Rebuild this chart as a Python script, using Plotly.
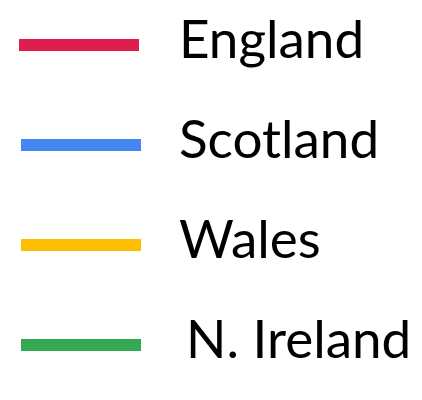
import plotly.graph_objects as go

# legend entries
nations = ["England", "Scotland", "Wales", "N. Ireland"]
colours = ["#DC1F4F", "#4487F2", "#FDBF00", "#34A853"]
line_start = [19, 21, 21, 21]
line_end = [139, 141, 141, 141]
label_x = [179, 179, 179, 186]

fig = go.Figure()

for name, col, x0, x1, lx in zip(nations, colours, line_start, line_end, label_x):
    fig.add_trace(
        go.Scatter(
            x=[x0, x1],
            y=[name, name],
            mode="lines",
            line=dict(color=col, width=12),
            hoverinfo="skip",
        )
    )
    fig.add_trace(
        go.Scatter(
            x=[lx],
            y=[name],
            mode="text",
            text=[name],
            textposition="middle right",
            textfont=dict(family="Lato", size=53, color="#000000"),
            cliponaxis=False,
            hoverinfo="skip",
        )
    )

# the page body adds an 8px margin, so the axes are offset to compensate
fig.update_layout(
    width=422,
    height=400,
    margin=dict(l=0, r=0, t=0, b=0),
    paper_bgcolor="white",
    plot_bgcolor="white",
    showlegend=False,
)
fig.update_xaxes(range=[8, 430], visible=False)
fig.update_yaxes(
    categoryorder="array",
    categoryarray=nations,
    range=[3.63, -0.37],
    visible=False,
)

fig.write_html("out.html")
